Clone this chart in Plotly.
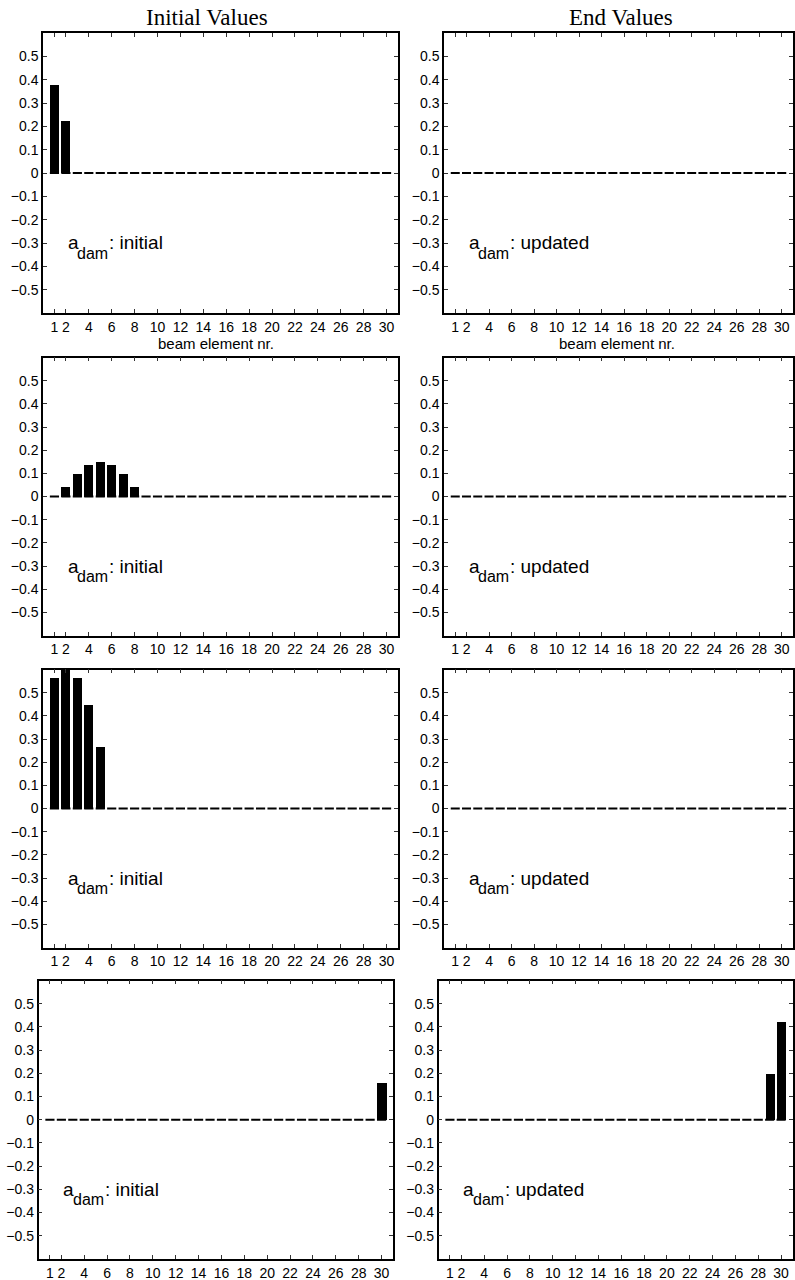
import plotly.graph_objects as go
from plotly.subplots import make_subplots

# ---- data -------------------------------------------------------------
elements = list(range(1, 31))

initial_case1 = [0.377, 0.221, 0, 0, 0, 0, 0, 0, 0, 0, 0, 0, 0, 0, 0,
                 0, 0, 0, 0, 0, 0, 0, 0, 0, 0, 0, 0, 0, 0, 0]
updated_case1 = [0, 0, 0, 0, 0, 0, 0, 0, 0, 0, 0, 0, 0, 0, 0,
                 0, 0, 0, 0, 0, 0, 0, 0, 0, 0, 0, 0, 0, 0, 0]

initial_case2 = [0, 0.043, 0.101, 0.140, 0.152, 0.140, 0.101, 0.043, 0, 0, 0, 0, 0, 0, 0,
                 0, 0, 0, 0, 0, 0, 0, 0, 0, 0, 0, 0, 0, 0, 0]
updated_case2 = [0, 0, 0, 0, 0, 0, 0, 0, 0, 0, 0, 0, 0, 0, 0,
                 0, 0, 0, 0, 0, 0, 0, 0, 0, 0, 0, 0, 0, 0, 0]

initial_case3 = [0.564, 0.600, 0.564, 0.451, 0.266, 0, 0, 0, 0, 0, 0, 0, 0, 0, 0,
                 0, 0, 0, 0, 0, 0, 0, 0, 0, 0, 0, 0, 0, 0, 0]
updated_case3 = [0, 0, 0, 0, 0, 0, 0, 0, 0, 0, 0, 0, 0, 0, 0,
                 0, 0, 0, 0, 0, 0, 0, 0, 0, 0, 0, 0, 0, 0, 0]

initial_case4 = [0, 0, 0, 0, 0, 0, 0, 0, 0, 0, 0, 0, 0, 0, 0,
                 0, 0, 0, 0, 0, 0, 0, 0, 0, 0, 0, 0, 0, 0, 0.160]
updated_case4 = [0, 0, 0, 0, 0, 0, 0, 0, 0, 0, 0, 0, 0, 0, 0,
                 0, 0, 0, 0, 0, 0, 0, 0, 0, 0, 0, 0, 0, 0.200, 0.423]

x_ticks = [1, 2, 4, 6, 8, 10, 12, 14, 16, 18, 20, 22, 24, 26, 28, 30]
y_ticks = [-0.5, -0.4, -0.3, -0.2, -0.1, 0, 0.1, 0.2, 0.3, 0.4, 0.5]
y_ticktext = ["\u22120.5", "\u22120.4", "\u22120.3", "\u22120.2", "\u22120.1",
              "0", "0.1", "0.2", "0.3", "0.4", "0.5"]

column_titles = ["Initial Values", "End Values"]
label_symbol = "a"
label_subscript = "dam"
label_suffixes = [": initial", ": updated"]
x_label = "beam element nr."

panels = [
    (initial_case1, updated_case1),
    (initial_case2, updated_case2),
    (initial_case3, updated_case3),
    (initial_case4, updated_case4),
]

# ---- layout geometry (pixels) -----------------------------------------
W, H = 795, 1280
BAR_W = 0.8
# (left, right, top, bottom) of each axes box
boxes = [
    [(43, 398, 33, 313), (444, 793, 33, 313)],
    [(43, 398, 357.5, 635.5), (444, 793, 357.5, 635.5)],
    [(43, 398, 669.5, 947.5), (444, 793, 669.5, 947.5)],
    [(38.5, 393, 980.5, 1259), (438.5, 792.5, 980.5, 1259)],
]

sans = "Liberation Sans, Arial, Helvetica, sans-serif"
serif = "Liberation Serif, Times New Roman, serif"

TICK_SIZE = 14
LABEL_SIZE = 19
SUB_SIZE = 16
SYMBOL_W = 0.556 * LABEL_SIZE          # advance of "a"
SUB_W = 1.945 * SUB_SIZE               # advance of "dam"

fig = make_subplots(rows=4, cols=2)

for r, pair in enumerate(panels):
    for c, values in enumerate(pair):
        # zero-height bars show up as short horizontal strokes on the baseline
        seg_x, seg_y = [], []
        for e in elements:
            seg_x += [e - BAR_W / 2, e + BAR_W / 2, None]
            seg_y += [0, 0, None]
        fig.add_trace(go.Bar(x=elements, y=values, width=BAR_W,
                             marker=dict(color="black", line=dict(width=0)),
                             showlegend=False, hoverinfo="x+y"),
                      row=r + 1, col=c + 1)
        fig.add_trace(go.Scatter(x=seg_x, y=seg_y, mode="lines",
                                 line=dict(color="black", width=2),
                                 showlegend=False, hoverinfo="skip"),
                      row=r + 1, col=c + 1)

        left, right, top, bottom = boxes[r][c]
        fig.update_xaxes(row=r + 1, col=c + 1,
                         domain=[left / W, right / W], range=[0, 31],
                         tickmode="array", tickvals=x_ticks,
                         ticktext=[str(t) for t in x_ticks],
                         ticks="inside", ticklen=4, tickwidth=1, tickcolor="#333",
                         showline=True, linewidth=1.5, linecolor="black",
                         mirror="ticks", showgrid=False, zeroline=False,
                         tickfont=dict(family=sans, size=TICK_SIZE, color="black"))
        fig.update_yaxes(row=r + 1, col=c + 1,
                         domain=[1 - bottom / H, 1 - top / H], range=[-0.6, 0.6],
                         tickmode="array", tickvals=y_ticks, ticktext=y_ticktext,
                         ticks="inside", ticklen=4, tickwidth=1, tickcolor="#333",
                         showline=True, linewidth=1.5, linecolor="black",
                         mirror="ticks", showgrid=False, zeroline=False,
                         tickfont=dict(family=sans, size=TICK_SIZE, color="black"))

        # a_dam label: symbol, dropped subscript, then the suffix text
        common = dict(row=r + 1, col=c + 1, x=2.0, y=-0.3, showarrow=False,
                      xanchor="left", yanchor="middle")
        fig.add_annotation(text=label_symbol,
                           font=dict(family=sans, size=LABEL_SIZE, color="black"),
                           **common)
        fig.add_annotation(text=label_subscript, xshift=SYMBOL_W - 1, yshift=-10.5,
                           font=dict(family=sans, size=SUB_SIZE, color="black"),
                           **common)
        fig.add_annotation(text=label_suffixes[c], xshift=SYMBOL_W + SUB_W - 0.5,
                           font=dict(family=sans, size=LABEL_SIZE, color="black"),
                           **common)

# column titles and the x-axis label under the first row
title_centers = [207, 621]
label_centers = [216, 617]
for c in range(2):
    fig.add_annotation(xref="paper", yref="paper",
                       x=title_centers[c] / W, y=1 - 17 / H,
                       text=column_titles[c], showarrow=False,
                       xanchor="center", yanchor="middle",
                       font=dict(family=serif, size=23, color="black"))
    fig.add_annotation(xref="paper", yref="paper",
                       x=label_centers[c] / W, y=1 - 343 / H,
                       text=x_label, showarrow=False,
                       xanchor="center", yanchor="middle",
                       font=dict(family=sans, size=15, color="black"))

fig.update_layout(width=W, height=H, margin=dict(l=0, r=0, t=0, b=0),
                  plot_bgcolor="white", paper_bgcolor="white",
                  bargap=0, showlegend=False)

fig.write_html("out.html")
